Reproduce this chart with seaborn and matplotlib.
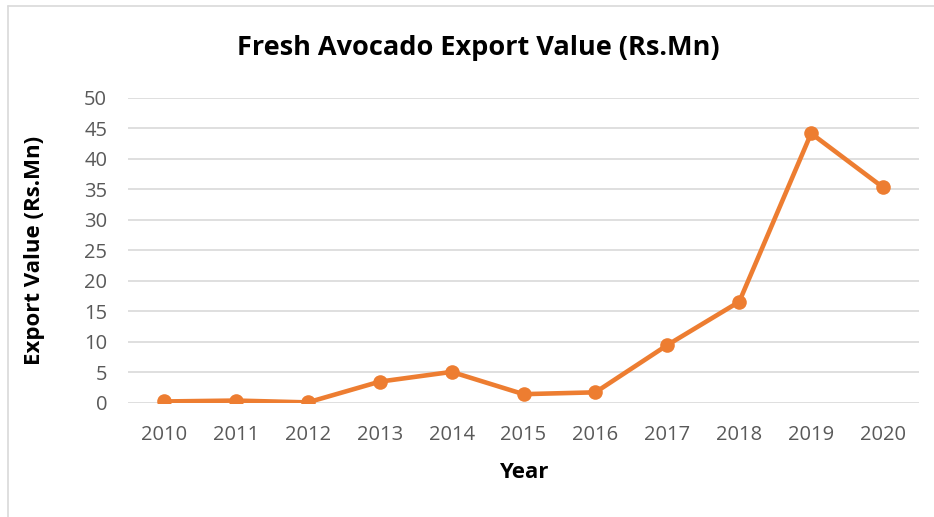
import pandas as pd
import matplotlib.pyplot as plt
from matplotlib.lines import Line2D
import seaborn as sns

years = [2010, 2011, 2012, 2013, 2014, 2015, 2016, 2017, 2018, 2019, 2020]
export_value = [0.2, 0.35, 0.05, 3.45, 5.05, 1.4, 1.7, 9.45, 16.55, 44.15, 35.3]
y_ticks = [0, 5, 10, 15, 20, 25, 30, 35, 40, 45, 50]

df = pd.DataFrame({'Year': years, 'Value': export_value})

sns.set_style('white')
plt.rcParams['font.family'] = ['Open Sans', 'DejaVu Sans']

fig = plt.figure(figsize=(9.34, 5.17), dpi=100)
ax = fig.add_axes([128 / 934, 1 - 402.7 / 517, 791 / 934, 305 / 517])

sns.lineplot(data=df, x='Year', y='Value', ax=ax, color='#ED7D31',
             linewidth=3.3, marker='o', markersize=10.5, markeredgewidth=0)

ax.set_xlim(2009.5, 2020.5)
ax.set_ylim(0, 50)
ax.set_xticks(years)
ax.set_yticks(y_ticks)
ax.yaxis.grid(True, color='#D9D9D9', linewidth=1.2)
ax.set_axisbelow(True)
for s in ax.spines.values():
    s.set_visible(False)
ax.tick_params(axis='both', length=0, labelsize=14.5, labelcolor='#595959')
ax.tick_params(axis='x', pad=16)
ax.tick_params(axis='y', pad=15)

ax.set_xlabel('Year', fontsize=16, fontweight='bold', color='black')
ax.set_ylabel('Export Value (Rs.Mn)', fontsize=16, fontweight='bold', color='black')
ax.xaxis.set_label_coords((524 - 128) / 791, -(472 - 402.7) / 305)
ax.yaxis.set_label_coords(-(128 - 35) / 791, 0.5)
ax.xaxis.label.set_va('center')
ax.yaxis.label.set_va('center')
fig.text(478 / 934, 1 - 48 / 517, 'Fresh Avocado Export Value (Rs.Mn)', ha='center', va='center',
         fontsize=19.5, fontweight='bold', color='black')

# chart border
fig.add_artist(Line2D([7.5 / 934, 7.5 / 934], [0, 1 - 5.5 / 517], transform=fig.transFigure,
                      color='#D9D9D9', linewidth=1.2))
fig.add_artist(Line2D([7.5 / 934, 1], [1 - 5.5 / 517, 1 - 5.5 / 517], transform=fig.transFigure,
                      color='#D9D9D9', linewidth=1.2))

fig.savefig('out.png', dpi=100)
